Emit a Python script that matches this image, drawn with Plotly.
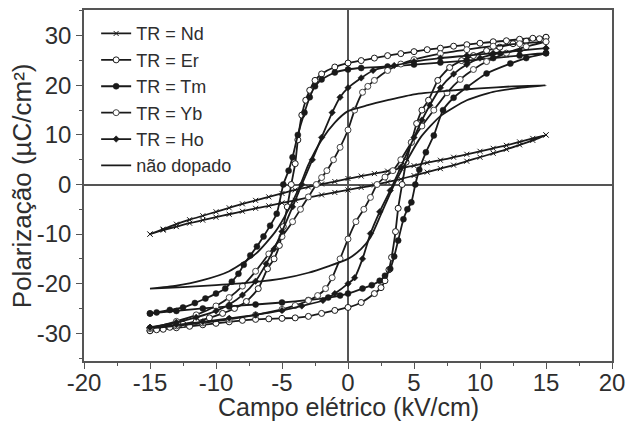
import plotly.graph_objects as go

# Nd (lossy, nearly linear)
nd_e_down = [15, 14, 13, 12, 11, 10, 9, 8, 7, 6, 5, 4, 3, 2, 1, 0, -1, -2, -3, -4, -5, -6, -7, -8, -9, -10, -11, -12, -13, -14, -15]
nd_p_down = [10.0, 9.3, 8.6, 7.9, 7.3, 6.7, 6.1, 5.5, 4.9, 4.4, 3.8, 3.3, 2.7, 2.2, 1.7, 1.2, 0.6, 0.1, -0.5, -1.1, -1.8, -2.5, -3.2, -3.9, -4.7, -5.5, -6.3, -7.1, -8.0, -9.0, -10.0]
nd_e_up = [-15, -14, -13, -12, -11, -10, -9, -8, -7, -6, -5, -4, -3, -2, -1, 0, 1, 2, 3, 4, 5, 6, 7, 8, 9, 10, 11, 12, 13, 14, 15]
nd_p_up = [-10.0, -9.2, -8.5, -7.8, -7.2, -6.6, -6.0, -5.4, -4.8, -4.3, -3.7, -3.2, -2.6, -2.1, -1.6, -1.1, -0.6, -0.1, 0.5, 1.1, 1.8, 2.5, 3.2, 3.9, 4.7, 5.5, 6.3, 7.1, 8.0, 8.9, 10.0]

# Er
er_e_down = [15, 14, 13, 12, 11, 10, 9, 8, 7, 6, 5, 4, 3, 2, 1, 0, -1, -2, -2.5, -2.9, -3.2, -3.5, -3.8, -4.0, -4.3, -4.6, -4.9, -5.2, -5.6, -6.1, -6.8, -7.7, -8.6, -9.5, -10.5, -11.5, -12.5, -13.5, -14.5, -15]
er_p_down = [29.7, 29.5, 29.3, 29.0, 28.8, 28.5, 28.2, 27.9, 27.5, 27.2, 26.8, 26.4, 26.0, 25.5, 25.0, 24.5, 23.7, 22.3, 21.0, 19.0, 17.0, 14.0, 9.0, 4.2, 0.0, -4.5, -8.5, -12.3, -15.0, -17.0, -21.0, -23.6, -25.0, -26.0, -26.9, -27.6, -28.2, -28.8, -29.3, -29.5]
er_e_up = [-15, -14, -13, -12, -11, -10, -9, -8, -7, -6, -5, -4, -3, -2, -1, 0, 1, 2, 2.5, 2.8, 3.1, 3.3, 3.6, 3.8, 4.1, 4.4, 4.8, 5.2, 5.6, 6.1, 6.8, 7.7, 8.6, 9.5, 10.5, 11.5, 12.5, 13.5, 14.5, 15]
er_p_up = [-29.5, -29.2, -28.9, -28.6, -28.3, -28.0, -27.7, -27.4, -27.2, -27.1, -27.0, -26.9, -26.6, -26.0, -25.4, -24.8, -23.8, -22.0, -20.8, -19.4, -17.2, -14.7, -9.5, -4.8, 0.0, 4.5, 8.5, 12.3, 15.0, 17.0, 21.0, 23.6, 25.0, 26.0, 27.0, 27.7, 28.4, 28.9, 29.4, 29.7]

# Tm
tm_e_down = [15, 13, 11, 9, 7, 5, 3, 1, 0, -1, -2, -2.5, -2.9, -3.3, -3.8, -4.2, -4.5, -4.9, -5.4, -5.9, -6.4, -6.9, -7.4, -7.9, -8.3, -8.8, -9.3, -10, -10.8, -11.6, -12.5, -13.5, -14.5, -15]
tm_p_down = [26.5, 26.0, 25.5, 25.0, 24.6, 24.2, 23.8, 23.5, 23.2, 22.6, 21.2, 19.8, 17.6, 14.5, 10.0, 5.5, 2.8, 0.0, -5.9, -8.3, -10.5, -12.5, -14.3, -16.2, -18.0, -19.6, -21.0, -22.0, -23.0, -23.9, -24.8, -25.3, -25.8, -26.0]
tm_e_up = [-15, -13, -11, -9, -7, -5, -3, -1.5, -0.6, 0, 1.1, 1.8, 2.4, 2.8, 3.2, 3.5, 3.8, 4.2, 4.5, 4.8, 5.1, 5.4, 5.9, 6.5, 7.2, 8, 9, 10.5, 12.3, 13.5, 15]
tm_p_up = [-26.0, -25.5, -25.0, -24.6, -24.2, -23.8, -23.3, -22.8, -22.4, -22.0, -21.0, -20.3, -19.4, -18.4, -17.0, -14.5, -11.3, -7.0, -5.0, -3.6, 0.0, 3.0, 6.5, 9.9, 15.0, 17.5, 19.6, 22.4, 24.4, 25.5, 26.5]

# Yb
yb_e_down = [15, 13, 11, 9, 7, 5, 4, 3, 2, 1.5, 1.1, 0.5, 0, -0.6, -1.1, -1.6, -2.0, -2.4, -3, -3.6, -4.2, -5, -6, -7, -8, -9, -10, -11.5, -13, -15]
yb_p_down = [28.8, 28.4, 27.9, 27.2, 26.4, 25.2, 24.3, 23.0, 21.0, 19.8, 18.6, 15.0, 11.0, 7.5, 5.0, 2.8, 1.4, 0.0, -2.5, -5.0, -7.5, -10.5, -14.0, -17.5, -20.5, -22.8, -24.5, -26.3, -27.6, -29.0]
yb_e_up = [-15, -13, -11, -9, -7, -5, -4, -3, -2.3, -1.7, -1.2, -0.6, 0, 0.6, 1.2, 1.7, 2.2, 2.8, 3.4, 4, 4.8, 5.6, 6.5, 7.5, 8.5, 9.5, 10.5, 12, 13.5, 15]
yb_p_up = [-29.0, -28.5, -27.9, -27.2, -26.3, -25.2, -24.4, -23.4, -22.4, -21.0, -18.8, -15.0, -11.0, -7.5, -5.0, -2.6, 0.0, 1.5, 2.8, 5.0, 8.5, 11.8, 15.0, 18.5, 21.2, 23.2, 24.8, 26.5, 27.8, 28.8]

# Ho
ho_e_down = [15, 13, 11, 9, 7, 5, 3.5, 1.9, 1, 0, -0.6, -1.2, -2, -2.7, -3.5, -4.2, -5, -5.6, -6.2, -7, -8, -9, -10, -11.5, -13, -15]
ho_p_down = [27.5, 27.0, 26.5, 26.0, 25.5, 24.8, 24.0, 23.0, 21.5, 19.5, 17.6, 14.5, 9.5, 5.0, 0.0, -4.5, -9.5, -13.0, -16.0, -19.5, -22.3, -24.2, -25.5, -26.8, -27.8, -28.8]
ho_e_up = [-15, -13, -11, -9, -7, -5, -3.5, -1.9, -1, 0, 0.5, 1.1, 1.7, 2.4, 3.2, 4, 5, 5.6, 6.2, 7, 8, 9, 10, 11.5, 13, 15]
ho_p_up = [-28.8, -28.3, -27.7, -27.0, -26.3, -25.4, -24.5, -23.4, -22.0, -20.0, -18.8, -15.0, -9.9, -5.5, -1.2, 3.5, 9.5, 13.0, 16.0, 19.5, 22.3, 24.2, 25.5, 26.5, 27.0, 27.5]

# undoped
un_e_down = [15, 12.5, 10, 7.5, 5, 3, 1.5, 0, -1, -2, -3, -3.6, -4.5, -5.5, -7, -9, -11, -13, -15]
un_p_down = [20.0, 19.8, 19.4, 18.9, 18.2, 17.0, 16.0, 14.8, 12.5, 9.0, 4.0, 0.0, -5.0, -9.5, -14.0, -17.5, -19.3, -20.4, -21.0]
un_e_up = [-15, -12.5, -10, -7.5, -5, -3, -1.5, 0, 1, 1.7, 2.5, 3.5, 4.5, 5.5, 7, 9, 11, 13, 15]
un_p_up = [-21.0, -20.7, -20.3, -19.8, -19.0, -17.8, -16.5, -15.0, -13.0, -10.7, -6.0, 0.0, 5.0, 9.5, 13.8, 17.0, 18.7, 19.5, 20.0]

x_ticks = [-20, -15, -10, -5, 0, 5, 10, 15, 20]
x_labels = ["-20", "-15", "-10", "-5", "0", "5", "10", "15", "20"]
y_ticks = [-30, -20, -10, 0, 10, 20, 30]
y_labels = ["-30", "-20", "-10", "0", "10", "20", "30"]

FONT = "Liberation Sans, Arial, sans-serif"
INK = "#1a1a1a"
FRAME = "#555555"
TEXT = "#2e2e2e"

fig = go.Figure()


def add_loop(name, e_down, p_down, e_up, p_up, marker):
    fig.add_trace(go.Scatter(
        x=e_down + e_up, y=p_down + p_up, name=name,
        mode="lines+markers" if marker else "lines",
        line=dict(color=INK, width=1.8, shape="spline", smoothing=0.6),
        marker=marker,
    ))


add_loop("TR = Nd", nd_e_down, nd_p_down, nd_e_up, nd_p_up,
         dict(symbol="x-thin-open", size=5, line=dict(color="#666666", width=1)))
add_loop("TR = Er", er_e_down, er_p_down, er_e_up, er_p_up,
         dict(symbol="circle", size=6, color="white", line=dict(color=INK, width=1)))
add_loop("TR = Tm", tm_e_down, tm_p_down, tm_e_up, tm_p_up,
         dict(symbol="circle", size=6, color=INK, line=dict(color=INK, width=0.5)))
add_loop("TR = Yb", yb_e_down, yb_p_down, yb_e_up, yb_p_up,
         dict(symbol="circle", size=6, color="white", line=dict(color="#444444", width=1)))
add_loop("TR = Ho", ho_e_down, ho_p_down, ho_e_up, ho_p_up,
         dict(symbol="diamond", size=5, color=INK, line=dict(color=INK, width=0.5)))
add_loop("não dopado", un_e_down, un_p_down, un_e_up, un_p_up, None)

axis_common = dict(
    showline=True, linecolor=FRAME, linewidth=1.5, mirror=True, automargin=False,
    showgrid=False, ticks="outside", ticklen=6, tickwidth=1.2, tickcolor=FRAME,
    zeroline=True, zerolinecolor=FRAME, zerolinewidth=1.5,
    tickfont=dict(family=FONT, size=24, color=TEXT),
)

fig.update_xaxes(range=[-20, 20], tickvals=x_ticks, ticktext=x_labels,
                 ticklabelstandoff=-7,
                 minor=dict(dtick=2.5, ticks="outside", ticklen=3, tickcolor=FRAME),
                 **axis_common)
fig.update_yaxes(range=[-35.6, 35.2], tickvals=y_ticks, ticktext=y_labels,
                 minor=dict(dtick=5, ticks="outside", ticklen=3, tickcolor=FRAME),
                 **axis_common)

# axis titles placed as annotations so they sit where the reference has them
fig.add_annotation(text="Campo elétrico (kV/cm)", xref="paper", yref="paper",
                   x=0.5, y=-0.13, xanchor="center", yanchor="middle", showarrow=False,
                   font=dict(family=FONT, size=25, color=TEXT))
fig.add_annotation(text="Polarização (µC/cm²)", xref="paper", yref="paper",
                   x=-0.118, y=0.5, xanchor="center", yanchor="middle", showarrow=False,
                   textangle=-90, font=dict(family=FONT, size=26, color=TEXT))

# page has an 8px body margin, so the figure is sized to fit the window
fig.update_layout(
    width=628, height=419,
    margin=dict(l=76, r=24, t=2, b=66),
    plot_bgcolor="white", paper_bgcolor="white",
    font=dict(family=FONT, color=TEXT),
    legend=dict(x=0.023, y=0.985, xanchor="left", yanchor="top",
                bgcolor="rgba(0,0,0,0)", font=dict(family=FONT, size=18, color=TEXT),
                tracegroupgap=0, itemwidth=30),
)

fig.write_html("out.html")
